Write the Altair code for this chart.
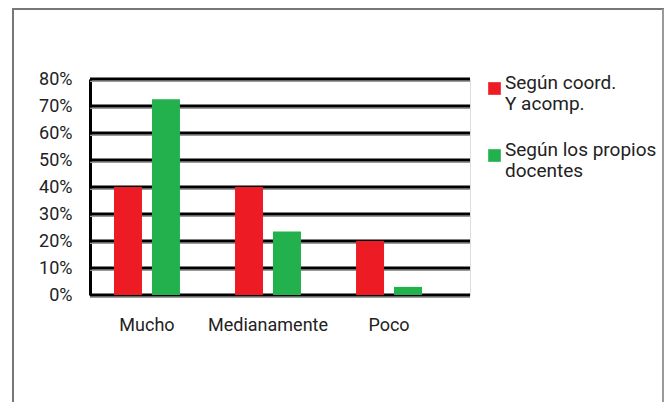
import altair as alt
import pandas as pd

categories = ["Mucho", "Medianamente", "Poco"]
series = ["Según coord.\nY acomp.", "Según los propios\ndocentes"]
coord_values = [0.40, 0.40, 0.20]
docentes_values = [0.725, 0.235, 0.03]
y_ticks = [0, 0.1, 0.2, 0.3, 0.4, 0.5, 0.6, 0.7, 0.8]
colors = ["#ED1C24", "#22B14C"]

rows = []
for c, a, b in zip(categories, coord_values, docentes_values):
    rows.append({"cat": c, "serie": series[0], "value": a})
    rows.append({"cat": c, "serie": series[1], "value": b})
df = pd.DataFrame(rows)
grid_df = pd.DataFrame({"v": y_ticks})
frame_df = pd.DataFrame({"k": [0]})

W, H = 380, 216
FONT = "Roboto"
FS = 18
yscale = alt.Scale(domain=[0, 0.8], nice=False)
yaxis = alt.Axis(values=y_ticks, format=".0%", title=None, grid=False, ticks=False,
                 domainColor="black", domainWidth=3, labelPadding=18,
                 labelFontSize=FS, labelColor="#222")

shadow = alt.Chart(grid_df).mark_rule(color="#9a9a9a", strokeWidth=1.5, yOffset=2.2).encode(
    y=alt.Y("v:Q", scale=yscale, axis=yaxis)
)
grid = alt.Chart(grid_df).mark_rule(color="black", strokeWidth=3).encode(
    y=alt.Y("v:Q", scale=yscale, axis=yaxis)
)

bars = alt.Chart(df).mark_bar().encode(
    x=alt.X(
        "cat:N", sort=categories,
        scale=alt.Scale(range=[24, 332], paddingInner=0.455, paddingOuter=0),
        axis=alt.Axis(title=None, labelAngle=0, domain=False, ticks=False,
                      labelPadding=21, labelFontSize=FS, labelColor="#222"),
    ),
    xOffset=alt.XOffset("serie:N", sort=series,
                        scale=alt.Scale(paddingInner=0.263, paddingOuter=0)),
    y=alt.Y("value:Q", scale=yscale, axis=yaxis),
    color=alt.Color(
        "serie:N", sort=series,
        scale=alt.Scale(domain=series, range=colors),
        legend=alt.Legend(
            title=None, orient="none", legendX=395, legendY=0,
            symbolType="square", symbolSize=160, symbolStrokeWidth=0,
            labelFontSize=19, labelOffset=1, rowPadding=26, labelLimit=300,
            labelColor="#222", labelBaseline="alphabetic",
            labelExpr="split(datum.label, '\\n')",
        ),
    ),
)

frame_left = alt.Chart(frame_df).mark_rule(color="#777", strokeWidth=2).encode(
    x=alt.value(-77), y=alt.value(-70), y2=alt.value(H + 110)
)
frame_top = alt.Chart(frame_df).mark_rule(color="#777", strokeWidth=2).encode(
    x=alt.value(-78), x2=alt.value(W + 194), y=alt.value(-70)
)
frame_right = alt.Chart(frame_df).mark_rule(color="#999", strokeWidth=2).encode(
    x=alt.value(W + 193), y=alt.value(-70), y2=alt.value(H + 110)
)

chart = alt.layer(frame_left, frame_top, frame_right, shadow, grid, bars).properties(
    width=W, height=H,
    autosize=alt.AutoSizeParams(type="none"),
    padding={"left": 82, "top": 71, "right": 194, "bottom": 107},
).configure_view(stroke=None).configure(font=FONT)

chart.save("out.html", embed_options={"renderer": "svg", "actions": False})
